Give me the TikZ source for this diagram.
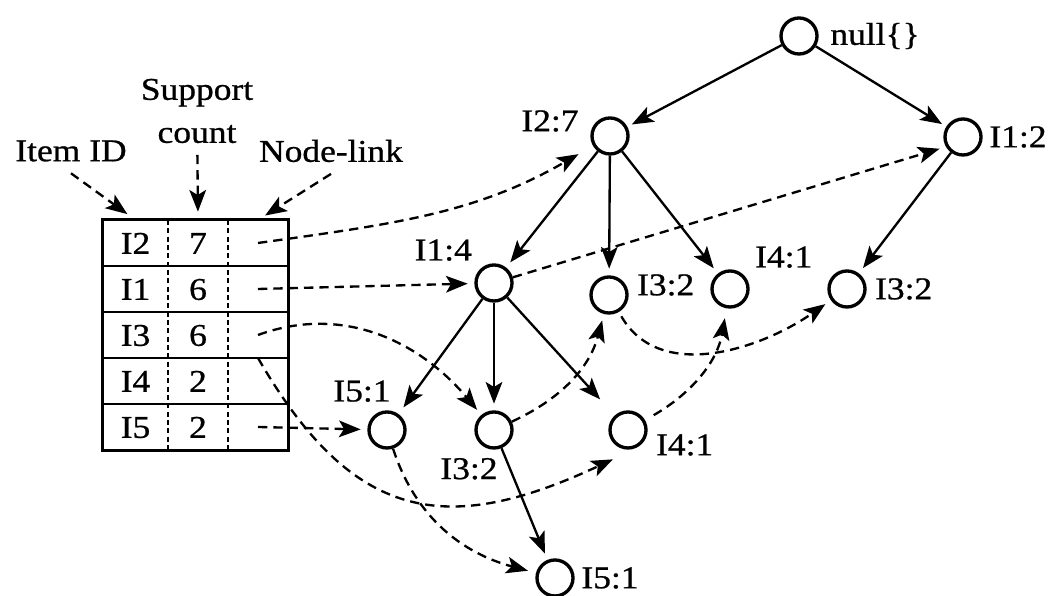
\documentclass[tikz,border=0pt]{standalone}
\usepackage{fontspec}
\setmainfont{Liberation Serif}[FakeStretch=1.12,FakeBold=0.8]
\usetikzlibrary{matrix}
\usetikzlibrary{arrows.meta}

\begin{document}
\begin{tikzpicture}[x=0.3pt,y=-0.3pt,font=\fontsize{9.5pt}{12.9pt}\selectfont,
  tnode/.style={circle,draw,line width=1pt,minimum size=10.8pt,inner sep=0pt},
  tedge/.style={-{Stealth[length=6.5pt,width=5pt,inset=1.5pt]},line width=0.7pt,shorten >=2pt},
  link/.style={tedge,dash pattern=on 2.8pt off 1.8pt},
  vline/.style={line width=0.45pt,dash pattern=on 1.5pt off 1pt}]
\useasboundingbox (0,0) rectangle (1049,596);
\matrix (tbl) [matrix of nodes,nodes in empty cells,inner sep=0pt,
  nodes={inner sep=0pt,outer sep=0pt,minimum height=13.8pt,text height=6.5pt,text depth=0pt},
  column 1/.style={nodes={minimum width=19.5pt}},
  column 2/.style={nodes={minimum width=18pt}},
  column 3/.style={nodes={minimum width=18pt}}] at (195.5,335)
{
I2 & 7 & \\
I1 & 6 & \\
I3 & 6 & \\
I4 & 2 & \\
I5 & 2 & \\
};
\draw[line width=1pt] (tbl.north west) rectangle (tbl.south east);
\foreach \r in {1,...,4}
  \draw[line width=0.7pt] (tbl-\r-1.south west) -- (tbl-\r-3.south east);
\foreach \c in {1,2}
  \draw[vline] (tbl-1-\c.north east) -- (tbl-5-\c.south east);

\node (itemid) at (71,151) {Item ID};
\node[align=center] (supcount) at (197,111) {Support\\count};
\node (nodelink) at (331,151) {Node-link};
\draw[link,shorten >=3pt] (itemid.south) -- (tbl-1-1.north);
\draw[link,shorten >=2.5pt] (supcount) -- (tbl-1-2.north);
\draw[link,shorten >=2.5pt] (nodelink.south) -- (tbl-1-3.north);

% the tree
\node[tnode,label={right:null\{\}}] (root) at (799,36) {};
\node[tnode,label={[yshift=4.5pt]left:{I2:7}}] (n2) at (610,136) {};
\node[tnode,label={[label distance=-1.5pt]right:{I1:2}}] (n1) at (963,137) {};
\node[tnode,label={[label distance=-1.5pt]above left:{I1:4}}] (n21) at (494,283) {};
\node[tnode,label={[yshift=3pt,label distance=-1pt]right:{I3:2}}] (n23) at (609,295) {};
\node[tnode,label={[label distance=-1pt]35:{I4:1}}] (n24) at (730,289) {};
\node[tnode,label={[label distance=-1pt]right:{I3:2}}] (n13) at (847,289) {};
\node[tnode,label={[xshift=-7.5pt,label distance=-1pt]above:{I5:1}}] (n215) at (387,430) {};
\node[tnode,label={[xshift=-7.5pt,label distance=-1pt]below:{I3:2}}] (n213) at (494,430) {};
\node[tnode,label={[yshift=-4.5pt,label distance=-1pt]right:{I4:1}}] (n214) at (628,430) {};
\node[tnode,label={[label distance=-1.5pt]right:{I5:1}}] (n2135) at (555,578) {};

\draw[tedge,shorten >=1.5pt] (root) -- (n2);
\draw[tedge,shorten >=1.5pt] (root) -- (n1);
\draw[tedge] (n2) -- (n21);
\draw[tedge] (n2) -- (n23);
\draw[tedge] (n2) -- (n24);
\draw[tedge] (n1) -- (n13);
\draw[tedge,shorten >=2.5pt] (n21) -- (n215);
\draw[tedge] (n21) -- (n213);
\draw[tedge,shorten >=6.5pt] (n21) -- (n214);
\draw[tedge] (n213) -- (n2135);

% node-links
\draw[link,shorten >=5pt] (tbl-1-3.center) to[out=8,in=-150] (n2);
\draw[link] (tbl-2-3.center) -- (n21);
\draw[link] (n21) -- (n1.210);
\draw[link] (tbl-3-3.center) to[out=20,in=130] (n213);
\draw[link] (n213) to[out=25,in=-105] (n23);
\draw[link,shorten <=1.5pt] (n23) to[out=-60,in=-145] (n13);
\draw[link,shorten >=1.5pt] (tbl-4-3.north) to[out=-60,in=-155,looseness=1.3] ([xshift=1pt,yshift=-4pt]n214.south west);
\draw[link,shorten <=3pt,shorten >=3pt] (n214) to[out=30,in=-100] (n24);
\draw[link] (tbl-5-3.center) -- (n215);
\draw[link,shorten >=2.5pt] (n215) to[out=-72,in=165] (n2135);
\end{tikzpicture}
\end{document}
